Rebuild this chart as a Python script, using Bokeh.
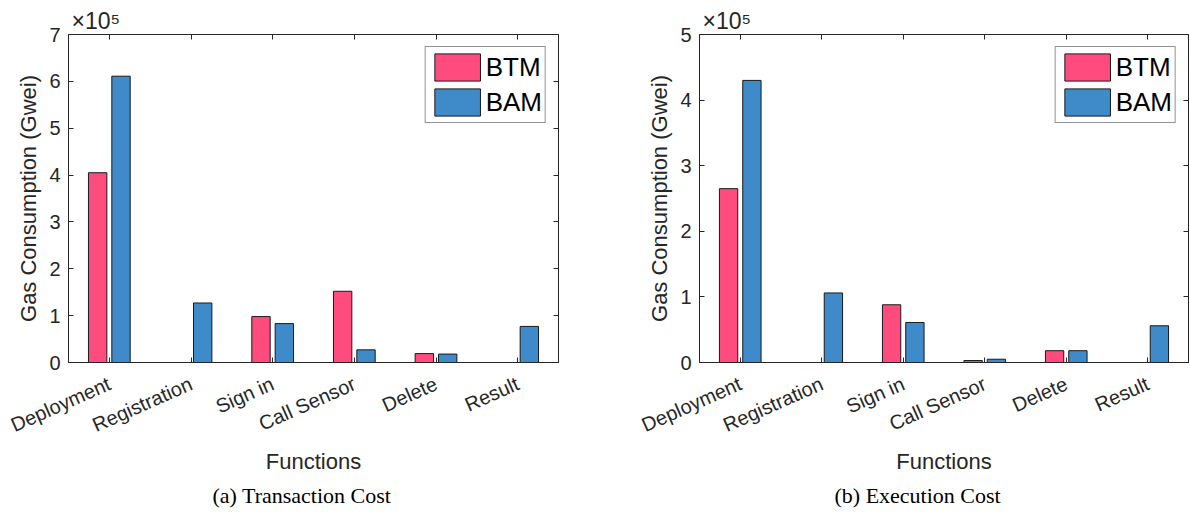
import math
from bokeh.plotting import figure
from bokeh.models import (Range1d, FixedTicker, CustomJSTickFormatter,
                          LinearAxis, Legend, LegendItem, Title, ColumnDataSource)
from bokeh.transform import dodge
from bokeh.layouts import row
from bokeh.embed import file_html
from bokeh.resources import INLINE

# ---- data ----
functions = ["Deployment", "Registration", "Sign in", "Call Sensor", "Delete", "Result"]
series = ["BTM", "BAM"]
tx_btm = [405000, 0, 98000, 152000, 19000, 0]
tx_bam = [611000, 127000, 83000, 27000, 18000, 77000]
ex_btm = [265000, 0, 88000, 3000, 18000, 0]
ex_bam = [430000, 106000, 61000, 5000, 18000, 56000]
tx_ticks = [0, 100000, 200000, 300000, 400000, 500000, 600000, 700000]
ex_ticks = [0, 100000, 200000, 300000, 400000, 500000]
captions = ["(a) Transaction Cost", "(b) Execution Cost"]
exponent_text = "×10⁵"

BTM_C = "#FF4B7D"
BAM_C = "#3F8AC8"
AX_C = "#262626"
SANS = "Liberation Sans"


def make(btm, bam, ticks, caption, border_left, border_right, frame_w, cap_offset):
    n = len(functions)
    pos = [i + 1 for i in range(n)]
    src = ColumnDataSource(dict(pos=pos, btm=btm, bam=bam))
    p = figure(x_range=Range1d(0.5, n + 0.5), y_range=Range1d(0, ticks[-1]),
               frame_width=frame_w, frame_height=328,
               min_border_left=border_left, min_border_right=border_right,
               min_border_top=34, min_border_bottom=10,
               output_backend="svg", toolbar_location=None,
               background_fill_color="white", border_fill_color="white")
    p.xgrid.grid_line_color = None
    p.ygrid.grid_line_color = None
    p.outline_line_color = AX_C
    p.outline_line_width = 1

    r1 = p.vbar(x=dodge("pos", -0.143), top="btm", width=0.225, source=src,
                fill_color=BTM_C, line_color="#1a1a1a", line_width=1)
    r2 = p.vbar(x=dodge("pos", 0.143), top="bam", width=0.225, source=src,
                fill_color=BAM_C, line_color="#1a1a1a", line_width=1)

    # y axis
    ya = p.yaxis[0]
    ya.ticker = FixedTicker(ticks=ticks)
    ya.formatter = CustomJSTickFormatter(code="return (tick/100000).toFixed(0);")
    ya.major_tick_in = 5
    ya.major_tick_out = 0
    ya.minor_tick_in = 0
    ya.minor_tick_out = 0
    ya.major_label_standoff = 8
    ya.major_label_text_font = SANS
    ya.major_label_text_font_size = "20px"
    ya.major_label_text_color = AX_C
    ya.axis_line_color = AX_C
    ya.major_tick_line_color = AX_C
    ya.axis_label = "Gas Consumption (Gwei)"
    ya.axis_label_text_font = SANS
    ya.axis_label_text_font_size = "22px"
    ya.axis_label_text_font_style = "normal"
    ya.axis_label_text_color = AX_C
    ya.axis_label_standoff = 5

    # x axis
    xa = p.xaxis[0]
    xa.ticker = FixedTicker(ticks=pos)
    xa.formatter = CustomJSTickFormatter(args=dict(names=functions),
                                         code="return names[Math.round(tick) - 1];")
    xa.major_tick_in = 5
    xa.major_tick_out = 0
    xa.minor_tick_in = 0
    xa.minor_tick_out = 0
    xa.major_label_orientation = math.radians(24)
    xa.major_label_standoff = 20
    xa.major_label_text_font = SANS
    xa.major_label_text_font_size = "20px"
    xa.major_label_text_color = AX_C
    xa.axis_line_color = AX_C
    xa.major_tick_line_color = AX_C
    xa.axis_label = "Functions"
    xa.axis_label_text_font = SANS
    xa.axis_label_text_font_size = "22px"
    xa.axis_label_text_font_style = "normal"
    xa.axis_label_text_color = AX_C
    xa.axis_label_standoff = 0

    # box ticks (right and top), drawn as label-less minor ticks
    ra = LinearAxis(ticker=FixedTicker(ticks=[], minor_ticks=ticks),
                    major_tick_in=0, major_tick_out=0, minor_tick_in=5, minor_tick_out=0,
                    major_label_standoff=0, axis_line_color=AX_C, minor_tick_line_color=AX_C)
    p.add_layout(ra, "right")
    ta = LinearAxis(ticker=FixedTicker(ticks=[], minor_ticks=pos),
                    major_tick_in=0, major_tick_out=0, minor_tick_in=5, minor_tick_out=0,
                    major_label_standoff=0, axis_line_color=AX_C, minor_tick_line_color=AX_C)
    p.add_layout(ta, "above")

    # exponent
    p.add_layout(Title(text=exponent_text, align="left", offset=3, standoff=1,
                       text_font=SANS, text_font_size="23px", text_font_style="normal",
                       text_color=AX_C), "above")

    legend = Legend(items=[LegendItem(label=series[0], renderers=[r1]),
                           LegendItem(label=series[1], renderers=[r2])],
                    location="top_right")
    legend.label_text_font = SANS
    legend.label_text_font_size = "26px"
    legend.label_text_color = "black"
    legend.glyph_width = 57
    legend.glyph_height = 34
    legend.label_height = 34
    legend.label_standoff = 0
    legend.spacing = 1
    legend.padding = 3
    legend.margin = 12
    legend.border_line_color = AX_C
    legend.border_line_width = 1
    legend.background_fill_alpha = 1
    p.add_layout(legend)

    t = Title(text=caption, align="left", text_font="Liberation Serif",
              text_font_size="22px", text_font_style="normal", text_color="black",
              offset=cap_offset, standoff=6)
    p.add_layout(t, "below")
    return p


p1 = make(tx_btm, tx_bam, tx_ticks, captions[0], 68, 45, 490, 144)
p2 = make(ex_btm, ex_bam, ex_ticks, captions[1], 96, 2, 489, 135)
layout = row(p1, p2)
open("out.html", "w").write(file_html(layout, INLINE))
